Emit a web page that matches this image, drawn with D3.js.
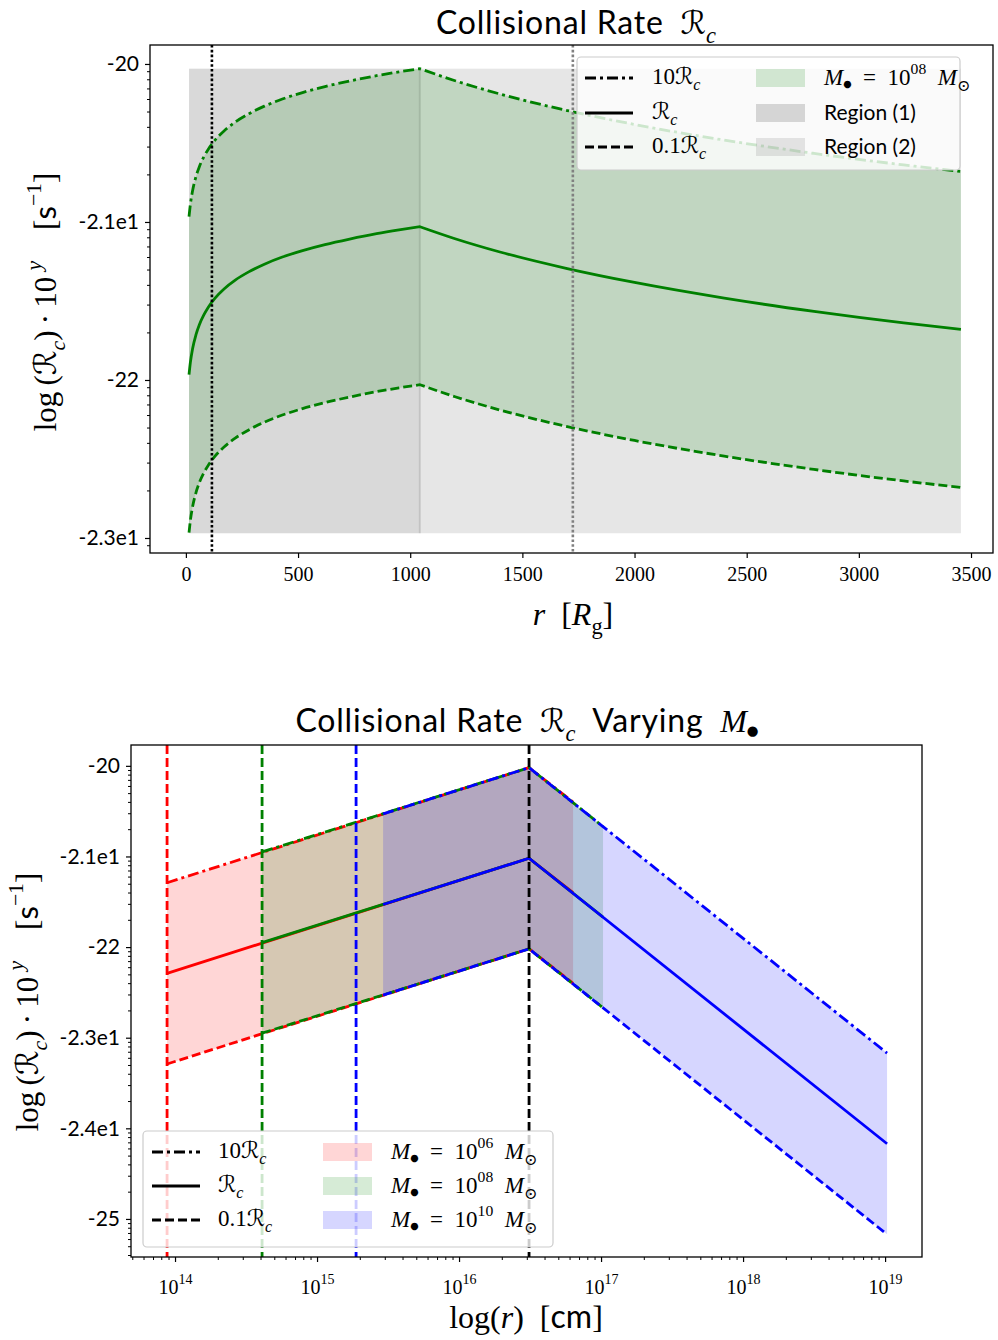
<!DOCTYPE html>
<html>
<head>
<meta charset="utf-8">
<script src="https://cdn.jsdelivr.net/npm/d3@7"></script>
<style>
  body { margin: 0; background: #fff; }
  svg text { fill: #000; }
</style>
</head>
<body>
<div id="chart"></div>
<script>
// ---------- data: top panel (M = 1e8 Msun) ----------
const topR = [14, 20, 30, 45, 60, 80, 100, 130, 170, 220, 280, 350, 430, 520, 620, 730, 850, 950, 1043,
              1200, 1400, 1700, 2000, 2400, 2800, 3200, 3455];
const topLogRc = [-21.966, -21.889, -21.801, -21.713, -21.650, -21.588, -21.539, -21.482, -21.424, -21.368,
                  -21.316, -21.267, -21.222, -21.181, -21.143, -21.108, -21.074, -21.050, -21.030,
                  -21.106, -21.190, -21.295, -21.383, -21.482, -21.566, -21.639, -21.680];
const peakR = 1043;
const bandFactors = [1, 0, -1];               // log offsets of 10Rc, Rc, 0.1Rc
const bandDash = ["11,4,3,4", null, "9,4"];   // dash-dot, solid, dashed
const bandLabels = ["10", "", "0.1"];
const topRegions = [[14, 1043], [1043, 3455]];
const topRegionLog = [-22.97, -20.03];
const topRegionNames = ["Region (1)", "Region (2)"];
const topVLines = [116, 1725];
const topXTicks = [0, 500, 1000, 1500, 2000, 2500, 3000, 3500];
const topYTicks = [-20, -21, -22, -23];
const topYLabels = ["-20", "-2.1e1", "-22", "-2.3e1"];

// ---------- data: bottom panel (varying mass) ----------
const massExp = ["06", "08", "10"];
const massColors = ["red", "green", "blue"];
const massLogR = [[13.944, 16.493, 16.803], [14.613, 16.493, 17.014], [15.465, 16.493, 19.014]];
const massLogRc = [[-22.29, -21.02, -21.40], [-21.95, -21.02, -21.67], [-21.53, -21.02, -24.17]];
const bottomVLines = [13.944, 14.613, 15.275, 16.493];
const bottomVColors = ["red", "green", "blue", "black"];
const bottomXTicks = [14, 15, 16, 17, 18, 19];
const bottomYTicks = [-20, -21, -22, -23, -24, -25];
const bottomYLabels = ["-20", "-2.1e1", "-22", "-2.3e1", "-2.4e1", "-25"];

// ---------- setup ----------
const SERIF = "'Liberation Serif', 'DejaVu Serif', serif";
const SANS = "Lato, 'DejaVu Sans', sans-serif";
const MATH = "'DejaVu Serif', 'DejaVu Sans', serif";

const svg = d3.select("#chart").append("svg")
    .attr("width", 998).attr("height", 1340);

const p10 = v => Math.pow(10, v);

// writes [text, opts] pieces as tspans; sub/sup shift the baseline
function rich(sel, base, pieces) {
    sel.style("font-size", base + "px");
    let prev = 0;
    pieces.forEach(([t, o = {}]) => {
        const shift = o.shift !== undefined ? o.shift : o.sub ? 0.28 : o.sup ? -0.5 : 0;
        const ts = sel.append("tspan").text(t).style("font-family", o.font || SERIF);
        if (o.italic) ts.style("font-style", "italic");
        if (o.scale) ts.style("font-size", (base * o.scale) + "px");
        if (o.ls) ts.style("letter-spacing", o.ls + "px");
        if (shift !== prev) ts.attr("dy", (shift - prev) * base);
        prev = shift;
    });
    return sel;
}
const Rc = () => [["ℛ", { font: MATH, italic: true }], ["c", { italic: true, sub: true, scale: 0.7 }]];
const Mbh = () => [["M", { italic: true }], ["●", { font: MATH, shift: 0.08, scale: 0.42 }]];

function minorLogTicks(lo, hi) {
    const out = [];
    for (let n = Math.floor(lo); n <= Math.ceil(hi); n++)
        for (let k = 2; k <= 9; k++) {
            const v = k * p10(n);
            if (v > p10(lo) && v < p10(hi)) out.push(v);
        }
    return out;
}

function styleAxis(g, font, size) {
    g.select(".domain").remove();
    g.selectAll(".tick line").attr("stroke", "#000").attr("stroke-width", 1.2);
    g.selectAll(".tick text").style("font-family", font).style("font-size", size + "px").attr("fill", "#000");
}
function minorAxis(g) {
    g.select(".domain").remove();
    g.selectAll(".tick text").remove();
    g.selectAll(".tick line").attr("stroke", "#000").attr("stroke-width", 1);
}

function drawLegend(g, box, rows, lineX, lineText) {
    g.append("rect").attr("x", box[0]).attr("y", box[1]).attr("width", box[2]).attr("height", box[3])
        .attr("rx", 4).attr("fill", "white").attr("fill-opacity", 0.8).attr("stroke", "#cccccc").attr("stroke-width", 1.2);
    rows.forEach((ry, i) => {
        const l = g.append("line").attr("x1", lineX).attr("x2", lineX + 48).attr("y1", ry).attr("y2", ry)
            .attr("stroke", "#000").attr("stroke-width", 2.8);
        if (bandDash[i]) l.attr("stroke-dasharray", bandDash[i]);
        const pcs = bandLabels[i] ? [[bandLabels[i], {}]] : [];
        rich(g.append("text").attr("x", lineText).attr("y", ry + 6), 23, pcs.concat(Rc()));
    });
}

function massLabel(t, exp) {
    rich(t, 23, Mbh().concat([["\u2002=\u200210", {}], [exp, { sup: true, scale: 0.68 }],
        ["\u2002M", { italic: true }], ["⊙", { font: MATH, sub: true, scale: 0.7 }]]));
}

// ================= TOP PANEL =================
const T = { l: 150, r: 993, t: 45, b: 553 };
const xT = d3.scaleLinear().domain([-160, 3598]).range([T.l, T.r]);
const yT = d3.scaleLog().domain([p10(-23.095), p10(-19.88)]).range([T.b, T.t]);
const gT = svg.append("g");

// regions
gT.selectAll(".region").data(topRegions).join("rect")
    .attr("x", d => xT(d[0])).attr("width", d => xT(d[1]) - xT(d[0]))
    .attr("y", yT(p10(topRegionLog[1]))).attr("height", yT(p10(topRegionLog[0])) - yT(p10(topRegionLog[1])))
    .attr("fill", "gray").attr("fill-opacity", (d, i) => i === 0 ? 0.3 : 0.2);
gT.append("line").attr("x1", xT(peakR)).attr("x2", xT(peakR))
    .attr("y1", yT(p10(topRegionLog[1]))).attr("y2", yT(p10(topRegionLog[0])))
    .attr("stroke", "gray").attr("stroke-opacity", 0.25).attr("stroke-width", 2);

// points split at the peak so each side is smoothed on its own
const topPts = topR.map((r, i) => ({ r, v: topLogRc[i] }));
const sides = [topPts.filter(d => d.r <= peakR), topPts.filter(d => d.r >= peakR)];

sides.forEach(pts => {
    gT.append("path").datum(pts)
        .attr("d", d3.area().curve(d3.curveMonotoneX).x(d => xT(d.r))
            .y0(d => yT(p10(d.v - 1))).y1(d => yT(p10(d.v + 1))))
        .attr("fill", "green").attr("fill-opacity", 0.16);
});

bandFactors.forEach((f, i) => {
    const line = d3.line().curve(d3.curveMonotoneX).x(d => xT(d.r)).y(d => yT(p10(d.v + f)));
    const d = line(sides[0]) + line(sides[1]).replace(/^M/, "L");
    const p = gT.append("path").attr("d", d)
        .attr("fill", "none").attr("stroke", "green").attr("stroke-width", 2.8);
    if (bandDash[i]) p.attr("stroke-dasharray", bandDash[i]);
});

// vertical dotted lines
gT.selectAll(".vl").data(topVLines).join("line")
    .attr("x1", d => xT(d)).attr("x2", d => xT(d)).attr("y1", T.t).attr("y2", T.b)
    .attr("stroke", (d, i) => i === 0 ? "black" : "gray").attr("stroke-width", 2.6)
    .attr("stroke-dasharray", "2.6,2.2");

// frame & axes
gT.append("rect").attr("x", T.l).attr("y", T.t).attr("width", T.r - T.l).attr("height", T.b - T.t)
    .attr("fill", "none").attr("stroke", "#000").attr("stroke-width", 1.3);
gT.append("g").attr("transform", `translate(0,${T.b})`)
    .call(d3.axisBottom(xT).tickValues(topXTicks).tickSize(5).tickPadding(9).tickFormat(d3.format("d")))
    .call(g => styleAxis(g, SERIF, 20));
gT.append("g").attr("transform", `translate(${T.l},0)`)
    .call(d3.axisLeft(yT).tickValues(topYTicks.map(p10)).tickSize(5).tickPadding(6)
        .tickFormat((d, i) => topYLabels[i]))
    .call(g => styleAxis(g, SANS, 21));
gT.append("g").attr("transform", `translate(${T.l},0)`)
    .call(d3.axisLeft(yT).tickValues(minorLogTicks(-23.095, -19.88)).tickSize(3))
    .call(minorAxis);

// legend
const legT = gT.append("g");
drawLegend(legT, [577, 57, 383, 113], [78, 113, 147], 585, 652);
const topPatch = [["green", 0.16], ["gray", 0.3], ["gray", 0.2]];
topPatch.forEach(([c, a], i) => {
    const ry = [78, 113, 147][i];
    legT.append("rect").attr("x", 756).attr("y", ry - 9).attr("width", 49).attr("height", 18)
        .attr("fill", c).attr("fill-opacity", a);
    const t = legT.append("text").attr("x", 824).attr("y", ry + 7);
    if (i === 0) massLabel(t, "08");
    else t.style("font-family", SANS).style("font-size", "21px").text(topRegionNames[i - 1]);
});

// titles & labels
rich(svg.append("text").attr("x", 576).attr("y", 34).attr("text-anchor", "middle"), 32,
    [["Collisional Rate\u2002", { font: SANS, ls: 0.8 }]].concat(Rc()));
rich(svg.append("text").attr("x", 573).attr("y", 625).attr("text-anchor", "middle"), 32,
    [["r", { italic: true }], ["\u2002[", {}], ["R", { italic: true }], ["g", { sub: true, scale: 0.7 }], ["]", {}]]);

function yLabel(cx, cy) {
    rich(svg.append("text").attr("transform", `translate(${cx},${cy}) rotate(-90)`)
        .attr("text-anchor", "middle"), 31,
        [["log\u2009(", {}]].concat(Rc())
            .concat([[")\u2009·\u200910\u2009", {}], ["y", { italic: true, sup: true, scale: 0.7 }],
                     ["\u2003[", {}], ["s", { font: SANS }], ["−1", { sup: true, scale: 0.7 }], ["]", {}]]));
}
yLabel(56, 302);

// ================= BOTTOM PANEL =================
const B = { l: 131, r: 922, t: 745, b: 1257 };
const xB = d3.scaleLog().domain([p10(13.69), p10(19.26)]).range([B.l, B.r]);
const yB = d3.scaleLog().domain([p10(-25.42), p10(-19.77)]).range([B.b, B.t]);
const gB = svg.append("g");

const massPts = massLogR.map((rs, m) => rs.map((r, i) => ({ r, v: massLogRc[m][i] })));

// fills
massPts.forEach((pts, m) => {
    gB.append("path").datum(pts)
        .attr("d", d3.area().x(d => xB(p10(d.r))).y0(d => yB(p10(d.v - 1))).y1(d => yB(p10(d.v + 1))))
        .attr("fill", massColors[m]).attr("fill-opacity", 0.16);
});
// lines
massPts.forEach((pts, m) => {
    bandFactors.forEach((f, i) => {
        const p = gB.append("path").datum(pts)
            .attr("d", d3.line().x(d => xB(p10(d.r))).y(d => yB(p10(d.v + f))))
            .attr("fill", "none").attr("stroke", massColors[m]).attr("stroke-width", 2.8);
        if (bandDash[i]) p.attr("stroke-dasharray", bandDash[i]);
    });
});
// vertical dashed lines
gB.selectAll(".vl").data(bottomVLines).join("line")
    .attr("x1", d => xB(p10(d))).attr("x2", d => xB(p10(d))).attr("y1", B.t).attr("y2", B.b)
    .attr("stroke", (d, i) => bottomVColors[i]).attr("stroke-width", 2.8).attr("stroke-dasharray", "9,4");

// frame & axes
gB.append("rect").attr("x", B.l).attr("y", B.t).attr("width", B.r - B.l).attr("height", B.b - B.t)
    .attr("fill", "none").attr("stroke", "#000").attr("stroke-width", 1.3);
const xAxB = gB.append("g").attr("transform", `translate(0,${B.b})`)
    .call(d3.axisBottom(xB).tickValues(bottomXTicks.map(p10)).tickSize(5).tickPadding(8)
        .tickFormat((d, i) => "10" + bottomXTicks[i]))
    .call(g => styleAxis(g, SERIF, 20));
xAxB.selectAll(".tick text").each(function (d, i) {
    const t = d3.select(this).text(null).attr("dy", "1.2em");
    rich(t, 20, [["10", {}], [String(bottomXTicks[i]), { sup: true, scale: 0.7 }]]);
});
gB.append("g").attr("transform", `translate(0,${B.b})`)
    .call(d3.axisBottom(xB).tickValues(minorLogTicks(13.69, 19.26)).tickSize(3))
    .call(minorAxis);
gB.append("g").attr("transform", `translate(${B.l},0)`)
    .call(d3.axisLeft(yB).tickValues(bottomYTicks.map(p10)).tickSize(5).tickPadding(6)
        .tickFormat((d, i) => bottomYLabels[i]))
    .call(g => styleAxis(g, SANS, 21));
gB.append("g").attr("transform", `translate(${B.l},0)`)
    .call(d3.axisLeft(yB).tickValues(minorLogTicks(-25.42, -19.77)).tickSize(3))
    .call(minorAxis);

// legend
const legB = gB.append("g");
drawLegend(legB, [143, 1131, 410, 116], [1152, 1186, 1220], 152, 218);
massColors.forEach((c, i) => {
    const ry = [1152, 1186, 1220][i];
    legB.append("rect").attr("x", 323).attr("y", ry - 9).attr("width", 49).attr("height", 18)
        .attr("fill", c).attr("fill-opacity", 0.16);
    massLabel(legB.append("text").attr("x", 391).attr("y", ry + 7), massExp[i]);
});

// titles & labels
rich(svg.append("text").attr("x", 527).attr("y", 732).attr("text-anchor", "middle"), 32,
    [["Collisional Rate\u2002", { font: SANS, ls: 0.8 }]].concat(Rc())
        .concat([["\u2002Varying\u2002", { font: SANS, ls: 0.8 }]]).concat(Mbh()));
rich(svg.append("text").attr("x", 526).attr("y", 1328).attr("text-anchor", "middle"), 32,
    [["log(", {}], ["r", { italic: true }], [")\u2002[", {}], ["cm", { font: SANS }], ["]", {}]]);
yLabel(38, 1002);
</script>
</body>
</html>
